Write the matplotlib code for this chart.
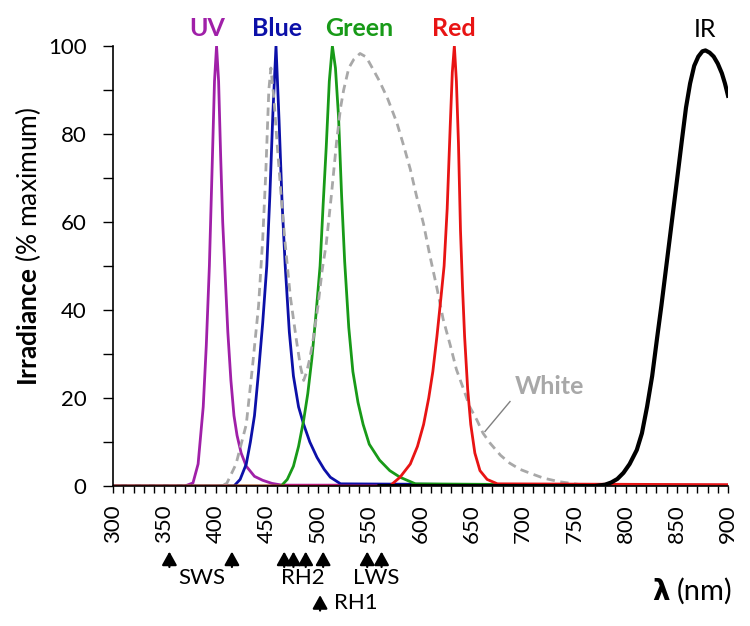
import matplotlib
matplotlib.use("Agg")
import matplotlib.pyplot as plt
from matplotlib.ticker import MultipleLocator

plt.rcParams['font.family'] = ['Lato', 'DejaVu Sans']
plt.rcParams['mathtext.fontset'] = 'custom'
plt.rcParams['mathtext.rm'] = 'Lato'
plt.rcParams['mathtext.bf'] = 'Lato:bold'

# spectra (wavelength nm, irradiance % of max)
uv_nm = [300, 370, 378, 383, 388, 391, 394, 397, 399, 401, 403, 405, 407, 409, 412, 415, 418, 421, 425, 430, 438, 446, 455, 465, 900]
uv_val = [0, 0, 0.7, 5, 18, 32, 50, 75, 92, 100, 92, 75, 60, 50, 35, 24, 16, 11.5, 7.5, 4.5, 2.2, 1.3, 0.6, 0.2, 0.2]

blue_nm = [300, 418, 424, 430, 434, 438, 442, 446, 450, 453, 456, 459, 462, 465, 468, 472, 476, 481, 486, 492, 499, 506, 512, 522, 900]
blue_val = [0, 0, 1.5, 5, 10, 16, 26, 37, 50, 66, 85, 100, 83, 64, 50, 35, 25, 18, 14, 10, 6.5, 3.8, 2, 0.5, 0]

green_nm = [300, 464, 470, 476, 481, 486, 490, 494, 498, 502, 505, 508, 511, 514, 517, 520, 523, 526, 530, 534, 539, 544, 550, 560, 570, 580, 595, 900]
green_val = [0, 0, 1.5, 4.5, 9, 15, 21, 29, 39, 50, 64, 77, 92, 100, 95, 84, 66, 51, 36, 26, 19, 14, 9.5, 5.9, 3.5, 2, 0.5, 0]

red_nm = [300, 570, 580, 590, 597, 603, 608, 612, 616, 620, 623, 626, 629, 631, 633, 635, 637, 639, 641, 643, 646, 649, 653, 658, 665, 675, 900]
red_val = [0, 0, 2, 5, 9, 14, 20, 26, 34, 43, 50, 63, 82, 94, 100, 92, 78, 58, 45, 34, 22, 14, 7.5, 3.5, 1.5, 0.5, 0.3]

white_nm = [300, 405, 411, 420, 430, 436, 442, 446, 449, 452, 454, 457, 460, 464, 468, 473, 479, 483, 486, 489, 492, 495, 500, 504, 508, 513, 518, 522, 525, 530, 535, 541, 547, 553, 560, 568, 577, 584, 590, 596, 603, 609, 616, 622, 629, 635, 642, 648, 655, 661, 668, 678, 687, 697, 707, 720, 735, 750, 760, 900]
white_val = [0, 0, 0.6, 5, 14, 27, 41, 56, 71, 90, 95, 88, 78, 66, 55, 43, 33, 27, 24, 26, 29, 33, 41, 49, 55, 66, 78, 86, 90, 95, 97, 98.3, 97.5, 95, 92, 88, 82.5, 77, 72, 66, 59.5, 52.5, 45, 38, 32, 26.5, 22, 18, 15, 12, 9.7, 7, 5.2, 3.8, 2.9, 1.8, 1.0, 0.5, 0.2, 0]

ir_nm = [560, 770, 780, 786, 792, 798, 804, 811, 816, 821, 826, 831, 835, 839, 843, 847, 851, 855, 859, 863, 867, 871, 875, 878, 882, 886, 890, 894, 897, 900]
ir_val = [0, 0, 0.3, 0.8, 1.6, 3, 5, 8.2, 12, 18, 25, 34, 41, 48.5, 56, 63.5, 71, 78.6, 86, 91.5, 95.5, 97.6, 98.8, 99, 98.5, 97.6, 96, 93.8, 91.5, 88.7]

# opsin lambda-max markers below the axis
sws_nm = [355, 416]
rh2_nm = [467, 476, 488, 505]
lws_nm = [548, 562]
rh1_nm = [502]

c_uv = '#A020A8'
c_blue = '#0C10A8'
c_green = '#189A18'
c_red = '#E81414'
c_white = '#A8A8A8'

fig = plt.figure(figsize=(7.5, 6.26), dpi=100)
ax = fig.add_axes([0.1507, 0.2236, 0.82, 0.7029])

ax.plot(uv_nm, uv_val, color=c_uv, lw=2)
ax.plot(blue_nm, blue_val, color=c_blue, lw=2)
ax.plot(green_nm, green_val, color=c_green, lw=2)
ax.plot(white_nm, white_val, color=c_white, lw=2, ls=(0, (3, 2)))
ax.plot(red_nm, red_val, color=c_red, lw=2)
ax.plot(ir_nm, ir_val, color='black', lw=3)

ax.set_xlim(300, 900)
ax.set_ylim(0, 100)
ax.xaxis.set_major_locator(MultipleLocator(50))
ax.xaxis.set_minor_locator(MultipleLocator(10))
ax.yaxis.set_major_locator(MultipleLocator(20))
ax.yaxis.set_minor_locator(MultipleLocator(10))
ax.tick_params(axis='x', which='both', direction='out', length=5, width=1, labelsize=16, pad=8, labelrotation=90)
ax.tick_params(axis='y', which='major', direction='out', length=7, width=1, labelsize=16, pad=12)
ax.tick_params(axis='y', which='minor', direction='out', length=7, width=1)
for s in ['top', 'right']:
    ax.spines[s].set_visible(False)
for s in ['left', 'bottom']:
    ax.spines[s].set_linewidth(1.2)

fig.text(0.037, 0.606, r'$\mathbf{Irradiance}$ (% maximum)', rotation=90,
         ha='center', va='center', fontsize=19)
fig.text(0.869, 0.0415, '\u03bb', fontsize=20, fontweight='bold', ha='left', va='baseline',
         family='DejaVu Sans')
fig.text(0.902, 0.0415, '(nm)', fontsize=21, ha='left', va='baseline')

top = ax.get_xaxis_transform()
ax.text(391.4, 1.04, 'UV', color=c_uv, fontsize=18, fontweight='bold', ha='center', va='center', transform=top)
ax.text(459.7, 1.04, 'Blue', color=c_blue, fontsize=18, fontweight='bold', ha='center', va='center', transform=top)
ax.text(540.2, 1.04, 'Green', color=c_green, fontsize=18, fontweight='bold', ha='center', va='center', transform=top)
ax.text(632.5, 1.04, 'Red', color=c_red, fontsize=18, fontweight='bold', ha='center', va='center', transform=top)
ax.text(877.6, 1.037, 'IR', color='black', fontsize=18, ha='center', va='center', transform=top)

ax.text(726, 22.7, 'White', color=c_white, fontsize=18, fontweight='bold', ha='center', va='center')
ax.plot([687.3, 662.9], [19.2, 12.4], color='#808080', lw=1)

arrow = dict(arrowstyle='-|>,head_width=0.25,head_length=0.45', mutation_scale=18,
             color='black', lw=1.6, shrinkA=0, shrinkB=0)
for x in sws_nm + rh2_nm + lws_nm:
    ax.annotate('', xy=(x, -0.149), xytext=(x, -0.184), xycoords=top, textcoords=top,
                arrowprops=arrow, annotation_clip=False)
for x in rh1_nm:
    ax.annotate('', xy=(x, -0.248), xytext=(x, -0.283), xycoords=top, textcoords=top,
                arrowprops=arrow, annotation_clip=False)

ax.text(386.5, -0.21, 'SWS', fontsize=16, ha='center', va='center', transform=top)
ax.text(485, -0.21, 'RH2', fontsize=16, ha='center', va='center', transform=top)
ax.text(556.5, -0.21, 'LWS', fontsize=16, ha='center', va='center', transform=top)
ax.text(515.5, -0.266, 'RH1', fontsize=16, ha='left', va='center', transform=top)

fig.savefig('out.png', dpi=100)
